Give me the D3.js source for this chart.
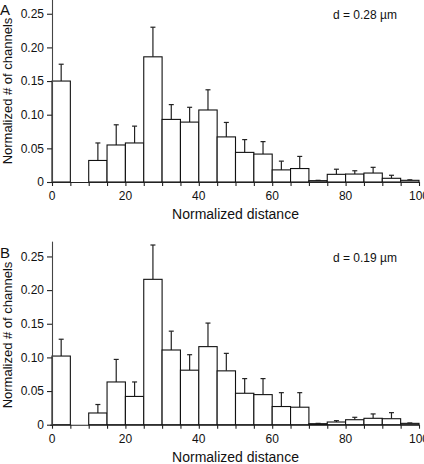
<!DOCTYPE html>
<html><head><meta charset="utf-8">
<script src="https://cdn.jsdelivr.net/npm/d3@7"></script>
<style>
html,body{margin:0;padding:0;background:#fff;}
text{font-family:"Liberation Sans",Arial,Helvetica,sans-serif;fill:#111;}
</style></head>
<body>
<svg id="chart" width="424" height="464"></svg>
<script>
const binStarts = [0,5,10,15,20,25,30,35,40,45,50,55,60,65,70,75,80,85,90,95];
const binWidth = 5;
const valuesA = [0.150,0,0.032,0.055,0.058,0.186,0.093,0.089,0.107,0.067,0.044,0.0415,0.018,0.020,0.002,0.0114,0.0118,0.0133,0.0055,0.0025];
const errorsA = [0.025,0,0.026,0.030,0.025,0.044,0.022,0.022,0.030,0.0215,0.019,0.0185,0.013,0.018,0.0005,0.0076,0.0049,0.0085,0.0045,0.0007];
const valuesB = [0.102,0,0.0174,0.0635,0.042,0.216,0.111,0.081,0.116,0.080,0.0467,0.0447,0.027,0.026,0.0015,0.004,0.0074,0.0095,0.0089,0.002];
const errorsB = [0.025,0,0.0126,0.0335,0.0215,0.051,0.028,0.023,0.035,0.026,0.0218,0.0238,0.0206,0.0216,0.0005,0.002,0.0036,0.0065,0.009,0.0006];
const xTicks = [0,20,40,60,80,100];
const xMinorTicks = [0,5,10,15,20,25,30,35,40,45,50,55,60,65,70,75,80,85,90,95,100];
const yTicks = [0,0.05,0.10,0.15,0.20,0.25];
const yTickLabels = ["0","0.05","0.10","0.15","0.20","0.25"];
const panelLetters = ["A","B"];
const panelNotes = ["d = 0.28 \u00b5m","d = 0.19 \u00b5m"];
const xTitle = "Normalized distance";
const yTitle = "Normalized # of channels";

const svg = d3.select("#chart");
const x = d3.scaleLinear().domain([0,100]).range([52,419]);

const panels = [
  {values: valuesA, errors: errorsA, base: 182, letter: panelLetters[0], note: panelNotes[0], yLabelMid: 91},
  {values: valuesB, errors: errorsB, base: 424.7, letter: panelLetters[1], note: panelNotes[1], yLabelMid: 335}
];

panels.forEach((p) => {
  const y = d3.scaleLinear().domain([0,0.272]).range([p.base, p.base - 0.272*673]);
  const g = svg.append("g");

  const data = binStarts.map((s,i) => ({s, v: p.values[i], e: p.errors[i]})).filter(d => d.v > 0);

  // error bars
  g.selectAll("line.err").data(data).enter().append("line")
    .attr("x1", d => x(d.s + binWidth/2)).attr("x2", d => x(d.s + binWidth/2))
    .attr("y1", d => y(d.v)).attr("y2", d => y(d.v + d.e))
    .attr("stroke", "#222").attr("stroke-width", 1.2);
  g.selectAll("line.cap").data(data).enter().append("line")
    .attr("x1", d => x(d.s + binWidth/2) - 2.5).attr("x2", d => x(d.s + binWidth/2) + 2.5)
    .attr("y1", d => y(d.v + d.e)).attr("y2", d => y(d.v + d.e))
    .attr("stroke", "#222").attr("stroke-width", 1.2);

  // bars
  g.selectAll("rect").data(data).enter().append("rect")
    .attr("x", d => x(d.s)).attr("width", d => x(d.s + binWidth) - x(d.s))
    .attr("y", d => y(d.v)).attr("height", d => y(0) - y(d.v))
    .attr("fill", "#fff").attr("stroke", "#111").attr("stroke-width", 1.1);

  // x axis
  const xa = g.append("g").attr("transform", `translate(0,${p.base})`)
    .call(d3.axisBottom(x).tickValues(xMinorTicks).tickSize(4).tickFormat(""));
  xa.select(".domain").attr("d", `M${x(0)-2},0.5H${x(100)}`).attr("stroke", "#222").attr("stroke-width", 1.1);
  xa.selectAll(".tick line").attr("stroke", "#222").attr("stroke-width", 1.1);
  g.selectAll("text.xl").data(xTicks).enter().append("text")
    .attr("x", d => x(d)).attr("y", p.base + 18)
    .attr("text-anchor", "middle").attr("font-size", 12).text(d => d);

  // y axis
  const ya = g.append("g").attr("transform", `translate(${x(0)},0)`)
    .call(d3.axisLeft(y).tickValues(yTicks).tickSize(5).tickFormat((d,i) => yTickLabels[i]));
  ya.select(".domain").attr("d", `M0.5,${y(0)}V${y(0.272)}`).attr("stroke", "#444").attr("stroke-width", 1.1);
  ya.selectAll(".tick line").attr("stroke", "#222").attr("stroke-width", 1.1);
  ya.selectAll(".tick text").attr("font-size", 12).attr("x", -8)
    .style("font-family", "'Liberation Sans',Arial,sans-serif").attr("fill", "#111");

  // titles
  g.append("text").attr("x", x(50)).attr("y", p.base + 37)
    .attr("text-anchor", "middle").attr("font-size", 14).text(xTitle);
  g.append("text").attr("transform", `translate(12,${p.yLabelMid}) rotate(-90)`)
    .attr("text-anchor", "middle").attr("font-size", 13).text(yTitle);
  g.append("text").attr("x", 0).attr("y", p.base - 167)
    .attr("font-size", 15).text(p.letter);
  g.append("text").attr("x", 333).attr("y", p.base - 163)
    .attr("font-size", 12).text(p.note);
});
</script>
</body></html>
